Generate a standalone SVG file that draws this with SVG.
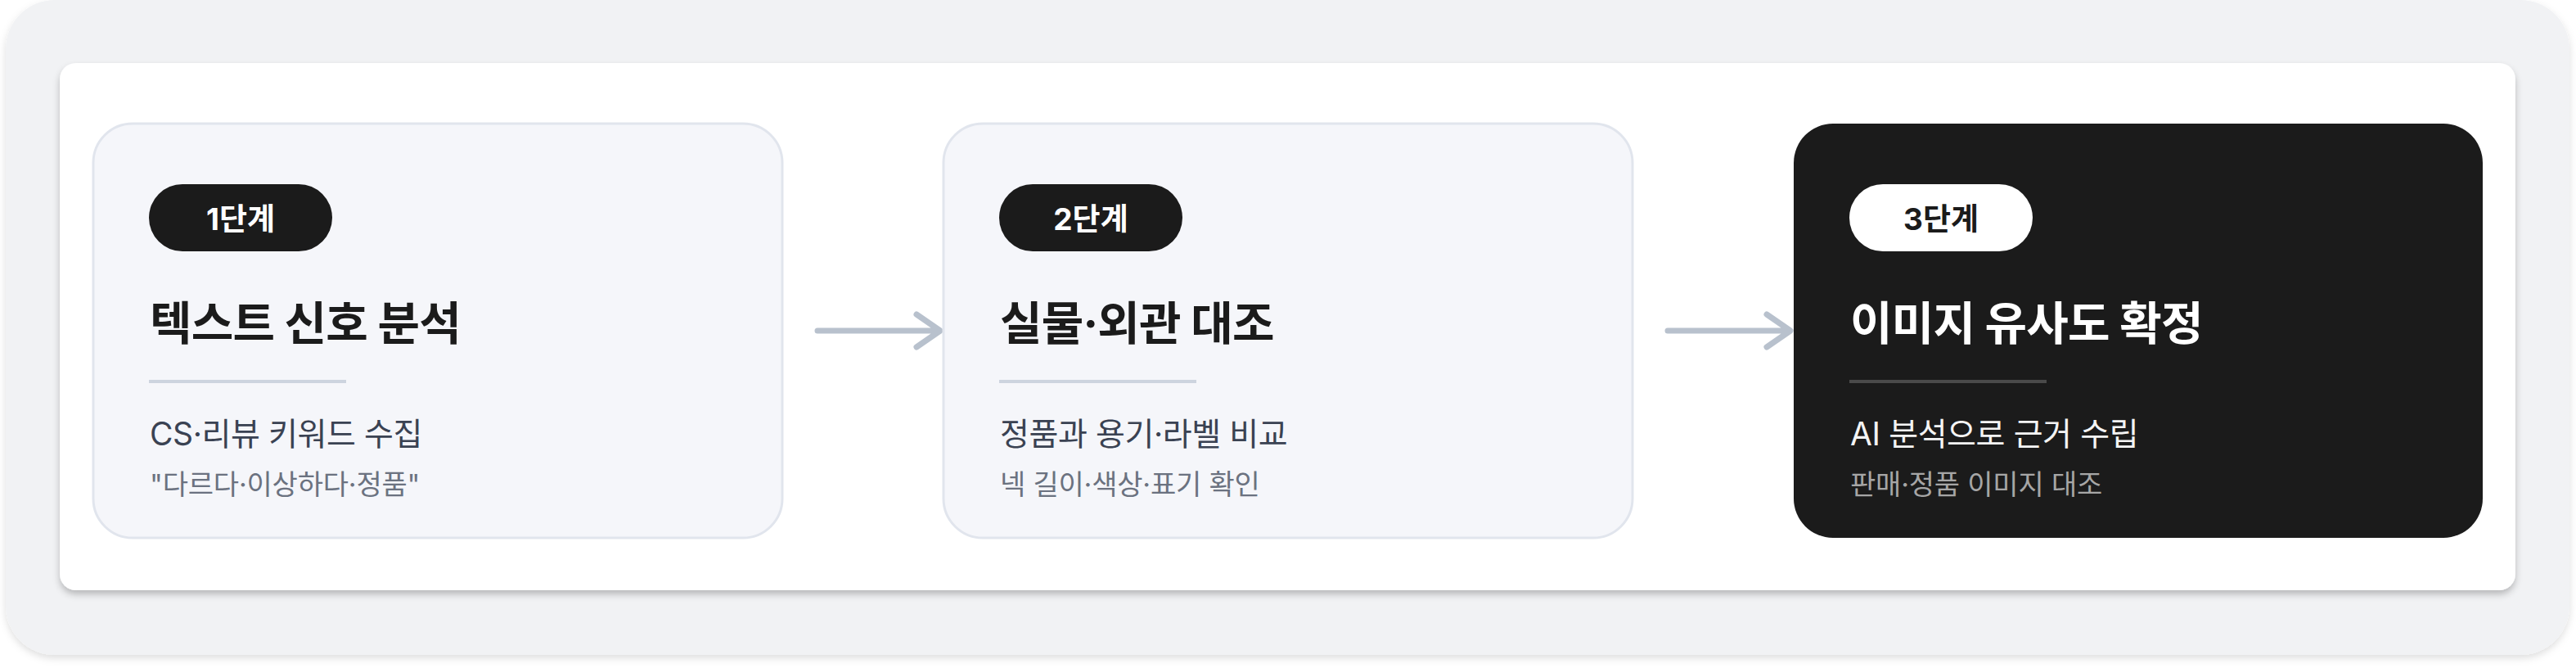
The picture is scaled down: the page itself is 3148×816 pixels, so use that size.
<svg xmlns="http://www.w3.org/2000/svg" width="3148" height="816" viewBox="0 0 3148 816">
<defs>
<filter id="sh" x="-5%" y="-10%" width="110%" height="125%">
<feDropShadow dx="0" dy="5" stdDeviation="4" flood-color="#000" flood-opacity="0.24"/>
</filter>
<filter id="sh2" x="-5%" y="-10%" width="110%" height="125%">
<feDropShadow dx="0" dy="4" stdDeviation="5" flood-color="#000" flood-opacity="0.13"/>
</filter>
</defs>
<style>
text{font-family:"Inter","Noto Sans CJK KR","Noto Sans",sans-serif}
.card{fill:#f5f6fa;stroke:#e1e5ed;stroke-width:3}
.dark{fill:#1b1b1b}
.badge{fill:#1b1b1b}
.badgeW{fill:#ffffff}
.bt{font-size:37px;font-weight:700;fill:#ffffff;text-anchor:middle}
.btD{font-size:37px;font-weight:700;fill:#1b1b1b;text-anchor:middle}
.title{font-size:56px;font-weight:700;fill:#1b1b1b;letter-spacing:-0.8px}
.titleW{font-size:56px;font-weight:700;fill:#ffffff;letter-spacing:-0.8px}
.div{stroke:#cdd4df;stroke-width:4}
.divD{stroke:#4a4a4a;stroke-width:4}
.s1{font-size:39px;fill:#3a4252;letter-spacing:-0.4px}
.s1W{font-size:39px;fill:#f4f4f4;letter-spacing:-0.4px}
.s2{font-size:34px;fill:#6b7280;letter-spacing:-0.2px}
.s2W{font-size:34px;fill:#a6a6a6;letter-spacing:-0.2px}
.arrow{fill:none;stroke:#b8c1cd;stroke-width:7;stroke-linecap:round;stroke-linejoin:round}
</style>
<rect x="7" y="0" width="3133" height="800" rx="60" fill="#f1f2f4" filter="url(#sh2)"/>
<rect x="73" y="77" width="3001" height="644" rx="20" fill="#ffffff" filter="url(#sh)"/>
<g id="connectors">
<path class="arrow" d="M999,404 L1148,404 M1120,384 L1149,404 L1120,424"/>
<path class="arrow" d="M2038,404 L2187,404 M2159,384 L2188,404 L2159,424"/>
</g>
<g id="step1">
<rect class="card" x="114" y="151" width="842" height="506" rx="48"/>
<rect class="badge" x="182" y="225" width="224" height="82" rx="41"/>
<text class="bt" x="294" y="281">1단계</text>
<text class="title" x="183" y="415">텍스트 신호 분석</text>
<line class="div" x1="182" y1="466" x2="423" y2="466"/>
<text class="s1" x="183" y="544">CS·리뷰 키워드 수집</text>
<text class="s2" x="183" y="604">"다르다·이상하다·정품"</text>
</g>
<g id="step2">
<rect class="card" x="1153" y="151" width="842" height="506" rx="48"/>
<rect class="badge" x="1221" y="225" width="224" height="82" rx="41"/>
<text class="bt" x="1333" y="281">2단계</text>
<text class="title" x="1222" y="415">실물·외관 대조</text>
<line class="div" x1="1221" y1="466" x2="1462" y2="466"/>
<text class="s1" x="1222" y="544">정품과 용기·라벨 비교</text>
<text class="s2" x="1222" y="604">넥 길이·색상·표기 확인</text>
</g>
<g id="step3">
<rect class="dark" x="2192" y="151" width="842" height="506" rx="48"/>
<rect class="badgeW" x="2260" y="225" width="224" height="82" rx="41"/>
<text class="btD" x="2372" y="281">3단계</text>
<text class="titleW" x="2261" y="415">이미지 유사도 확정</text>
<line class="divD" x1="2260" y1="466" x2="2501" y2="466"/>
<text class="s1W" x="2261" y="544">AI 분석으로 근거 수립</text>
<text class="s2W" x="2261" y="604">판매·정품 이미지 대조</text>
</g>
</svg>
